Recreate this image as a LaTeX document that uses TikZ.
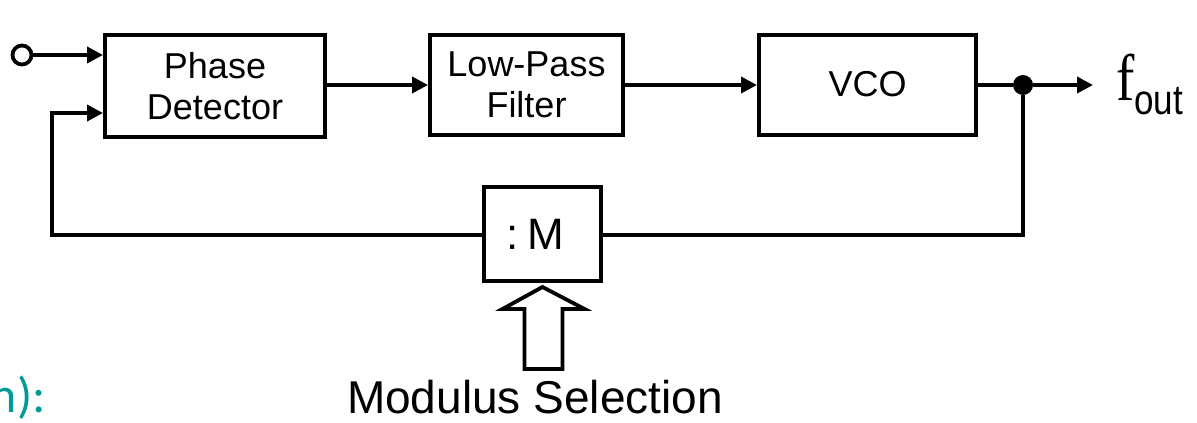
\documentclass[tikz,border=0pt]{standalone}
\usepackage{fontspec}
\usepackage{graphicx}
\setmainfont{Liberation Sans}
\newfontfamily\serf{Liberation Serif}
\newfontfamily\calib{Carlito}
\usetikzlibrary{arrows.meta}
\definecolor{tealtxt}{RGB}{0,153,153}

\tikzset{
  block/.style={draw, line width=4pt, fill=white, align=center,
    font=\fontsize{36}{41}\selectfont, inner sep=0pt},
  wire/.style={line width=3.8pt},
  sig/.style={wire, -{Triangle[length=16pt,width=16pt]}},
  junction/.style={circle, fill=black, inner sep=0pt, minimum size=20pt},
  terminal/.style={circle, draw, line width=3.8pt, fill=white, inner sep=0pt, minimum size=19pt},
}

\begin{document}
\begin{tikzpicture}[x=1pt,y=-1pt]
  \useasboundingbox (0,0) rectangle (1197,423);

  % forward path blocks
  \node[block, minimum width=220pt, minimum height=102pt] (pd) at (215,86) {Phase\\Detector};
  \node[block, minimum width=193pt, minimum height=100pt] (lpf) at (526.5,85) {Low-Pass\\Filter};
  \node[block, minimum width=217pt, minimum height=100pt] (vco) at (867.5,85) {\raisebox{3pt}{VCO}};
  % divider in the feedback path
  \node[block, minimum width=117pt, minimum height=94pt, font=\fontsize{44}{48}\selectfont] (div) at (542.5,234) {:\hspace{9pt}M\hspace{15pt}};

  % input terminal and outputs
  \node[terminal] (in) at (22,55) {};
  \node[junction] (tap) at (1023,85) {};
  \coordinate (out) at (1093,85);
  \node[anchor=base west, inner sep=0pt] (fout) at (1116,100)
    {\scalebox{1}[1.2]{{\serf\fontsize{55}{55}\selectfont f}{\fontsize{35}{35}\selectfont\raisebox{-11.7pt}{out}}}};

  % feedback corners
  \coordinate (fbr) at (1023,235);
  \coordinate (fbl) at (52,235);
  \coordinate (fbt) at (52,113);

  % forward connections
  \draw[sig] (in.east) -- (pd.west |- in);
  \draw[sig] (pd.east |- lpf) -- (lpf.west);
  \draw[sig] (lpf.east) -- (vco.west);
  \draw[wire] (vco.east |- tap) -- (tap);
  \draw[sig] (tap) -- (out);

  % feedback loop through the divider
  \draw[wire] (tap) -- (fbr) -- (div.east |- fbr);
  \draw[sig] (div.west |- fbl) -- (fbl) -- (fbt) -- (pd.west |- fbt);

  % modulus selection input (hollow arrow)
  \draw[line width=3.8pt, line join=miter, fill=white]
    ([yshift=-4pt]div.south) -- ++(42,22) -- ++(-22,0) -- ++(0,60) -- ++(-38,0)
    -- ++(0,-60) -- ++(-22,0) -- cycle;
  \node[anchor=base, inner sep=0pt, font=\fontsize{46}{50}\selectfont] (mod) at (535,413) {Modulus Selection};

  % trailing text
  \node[anchor=base east, inner sep=0pt, text=tealtxt, font=\calib\fontsize{50}{54}\selectfont] (tail) at (46,412) {n):};
\end{tikzpicture}
\end{document}
